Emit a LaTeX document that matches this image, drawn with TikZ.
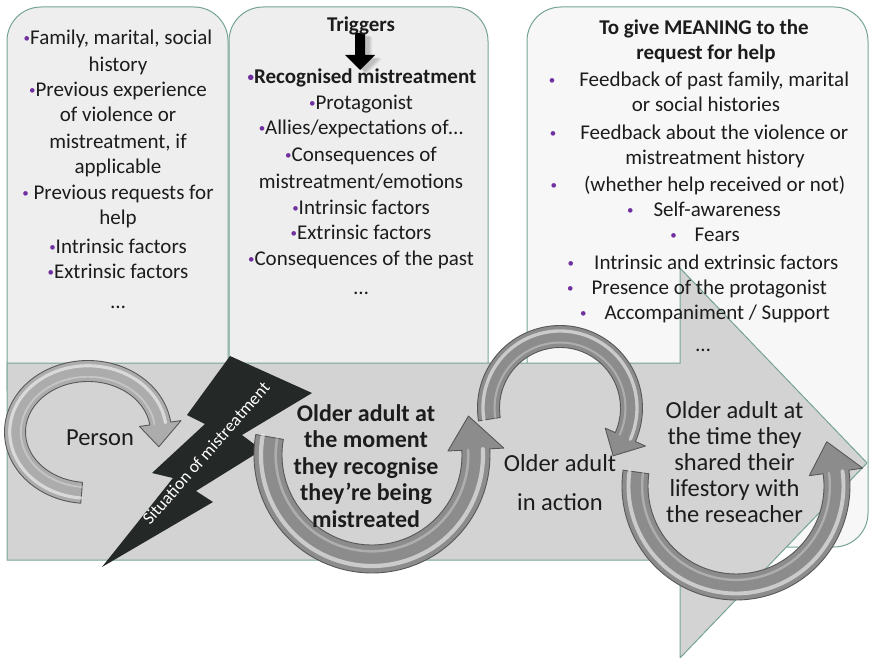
\documentclass[tikz,border=0pt]{standalone}
\usepackage{fontspec}
\setmainfont{Carlito}
\usetikzlibrary{calc}

\definecolor{boxfill}{RGB}{238,238,238}
\definecolor{boxfillb}{RGB}{247,247,247}
\definecolor{edge}{RGB}{118,164,146}
\definecolor{bandfill}{RGB}{211,211,211}
\definecolor{ink}{RGB}{28,28,28}
\definecolor{bul}{RGB}{112,48,160}
\definecolor{bolt}{RGB}{36,40,38}
\definecolor{ringlight}{RGB}{172,172,172}
\definecolor{ringdark}{RGB}{140,140,140}
\definecolor{ringedge}{RGB}{88,88,88}
\colorlet{ringcol}{ringdark}

% small purple bullet
\newcommand\bl{\textcolor{bul}{\fontsize{13}{13}\selectfont\raisebox{0.18em}{•}}}

% bevelled circular arrow:
% #1,#2 centre; #3,#4 mid radii; #5 half width; #6 tail angle; #7 head angle;
% #8 tip angle; #9 half width of the head
\newcommand\ringarrow[9]{%
  \begin{scope}[shift={(#1,#2)}]
    \pgfmathsetmacro\rxo{#3+#5}\pgfmathsetmacro\ryo{#4+#5}%
    \pgfmathsetmacro\rxi{#3-#5}\pgfmathsetmacro\ryi{#4-#5}%
    \pgfmathsetmacro\rxho{#3+#9}\pgfmathsetmacro\ryho{#4+#9}%
    \pgfmathsetmacro\rxhi{#3-#9}\pgfmathsetmacro\ryhi{#4-#9}%
    \pgfmathsetmacro\rxa{#3+0.5*#5}\pgfmathsetmacro\rya{#4+0.5*#5}%
    \pgfmathsetmacro\rxb{#3-0.55*#5}\pgfmathsetmacro\ryb{#4-0.55*#5}%
    \pgfmathsetmacro\lwa{0.3*#5}%
    \filldraw[fill=ringcol, draw=ringedge, line width=0.9pt, line join=round]
      (#6:{\rxo} and {\ryo})
      arc[start angle=#6, end angle=#7, x radius=\rxo, y radius=\ryo]
      -- (#7:{\rxho} and {\ryho})
      -- (#8:{#3} and {#4})
      -- (#7:{\rxhi} and {\ryhi})
      -- (#7:{\rxi} and {\ryi})
      arc[start angle=#7, end angle=#6, x radius=\rxi, y radius=\ryi]
      -- cycle;
    \draw[white, opacity=.55, line width=\lwa pt, line cap=round]
      (#6:{\rxa} and {\rya})
      arc[start angle=#6, end angle=#7, x radius=\rxa, y radius=\rya];
    \draw[white, opacity=.3, line width=0.6*\lwa pt, line cap=round]
      (#6:{\rxb} and {\ryb})
      arc[start angle=#6, end angle=#7, x radius=\rxb, y radius=\ryb];
  \end{scope}}

\tikzset{
  panel/.style={draw=edge, line width=1pt, rounded corners=34},
  boxtxt/.style={anchor=base, inner sep=0pt, text=ink,
    font=\fontsize{21}{24}\selectfont},
  boxhead/.style={boxtxt, font=\fontsize{21}{24}\bfseries\selectfont},
  bandtxt/.style={inner sep=0pt, text=ink, align=center,
    font=\fontsize{24.5}{26}\selectfont},
  bandbold/.style={bandtxt, font=\fontsize{24}{26.5}\bfseries\selectfont},
}

\begin{document}
\begin{tikzpicture}[x=1pt,y=-1pt]
\useasboundingbox (0,0) rectangle (871,658);

% the three panels
\draw[panel, fill=boxfill] (7,7) rectangle (228,420);
\draw[panel, fill=boxfill] (229,7) rectangle (488,420);
\draw[panel, fill=boxfillb] (527,7) rectangle (868,547);

% the broad timeline arrow
\draw[draw=edge, line width=1pt, fill=bandfill]
  (7,363) -- (680,363) -- (680,268) -- (867,463) -- (680,658)
  -- (680,560) -- (7,560) -- cycle;

% lightning bolt
\fill[bolt] (230,356) -- (312,393) -- (242,435) -- (262,450) -- (196,491)
  -- (213,502) -- (102,567) -- (173,478) -- (152,473) -- (205,424)
  -- (187,415) -- cycle;
\node[rotate=48.7, text=white, inner sep=0pt,
  font=\fontsize{17.5}{18}\selectfont] (sit) at (206,453) {Situation of mistreatment};

% block arrow under "Triggers", with its soft shadow
\foreach \k in {1,...,4}
  \fill[black, opacity=0.05, shift={(3+\k,2+0.5*\k)}]
    (355,33) -- (365,33) -- (365,55) -- (375,55) -- (360,70) -- (345,55) -- (355,55) -- cycle;
\fill[black] (355,33) -- (365,33) -- (365,55) -- (375,55) -- (360,70)
  -- (345,55) -- (355,55) -- cycle;

% circular arrows
\colorlet{ringcol}{ringlight}
\ringarrow{88}{432}{73}{61}{10.5}{95}{352}{374}{21}
\colorlet{ringcol}{ringdark}
\ringarrow{372}{455}{104}{104}{14}{190}{-3}{-22}{28}
\ringarrow{560}{408}{71.5}{71.5}{11}{171}{384}{402}{22}
\ringarrow{736}{486}{101}{101}{13}{188}{-8}{-26}{27}

% first panel
\foreach \yy/\tx [count=\i] in {
  38/{\bl Family, marital, social},
  65/{history},
  90/{\bl Previous experience},
  115/{of violence or},
  142/{mistreatment, if},
  167/{applicable},
  193/{\bl\ Previous requests for},
  218/{help},
  247/{\bl Intrinsic factors},
  272/{\bl Extrinsic factors},
  302/{…}}
  \node[boxtxt] (pa\i) at (118,\yy+6.5) {\tx};

% second panel
\node[boxhead] (trig) at (361,25+6.5) {Triggers};
\node[boxhead] (recm) at (362,77+6.5) {\bl Recognised mistreatment};
\foreach \yy/\tx [count=\i] in {
  103/{\bl Protagonist},
  128/{\bl Allies/expectations of…},
  155/{\bl Consequences of},
  182/{mistreatment/emotions},
  208/{\bl Intrinsic factors},
  233/{\bl Extrinsic factors},
  259/{\bl Consequences of the past},
  288/{…}}
  \node[boxtxt] (pb\i) at (361,\yy+6.5) {\tx};

% third panel
\node[boxhead] (mean1) at (704,28+6.5) {To give MEANING to the};
\node[boxhead] (mean2) at (706,53+6.5) {request for help};
\foreach \xx/\yy/\tx [count=\i] in {
  699/80/{\bl\hspace{24pt}Feedback of past family, marital},
  706/105/{or social histories},
  699/133/{\bl\hspace{24pt}Feedback about the violence or},
  715/158/{mistreatment history},
  698/185/{\bl\hspace{27pt}(whether help received or not)},
  704/210/{\bl\hspace{20pt}Self-awareness},
  705/235/{\bl\hspace{18pt}Fears},
  703/263/{\bl\hspace{20pt}Intrinsic and extrinsic factors},
  697/288/{\bl\hspace{18pt}Presence of the protagonist},
  705/313/{\bl\hspace{18pt}Accompaniment / Support},
  703/345/{…}}
  \node[boxtxt] (pc\i) at (\xx,\yy+6.5) {\tx};

% stages on the timeline
\node[bandtxt] (person) at (100,438) {Person};
\node[bandbold] (recog) at (366,466)
  {Older adult at\\the moment\\they recognise\\they’re being\\mistreated};
\node[bandtxt] (act1) at (560,463) {Older adult};
\node[bandtxt] (act2) at (560,502) {in action};
\node[bandtxt] (share) at (734.5,462)
  {Older adult at\\the time they\\shared their\\lifestory with\\the reseacher};
\end{tikzpicture}
\end{document}
